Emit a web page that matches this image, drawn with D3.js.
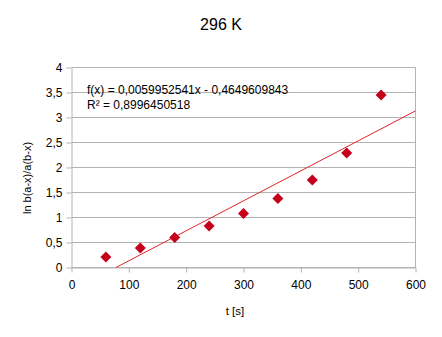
<!DOCTYPE html>
<html>
<head>
<meta charset="utf-8">
<script src="https://cdn.jsdelivr.net/npm/d3@7"></script>
<style>
  html, body { margin: 0; padding: 0; background: #fff; }
  svg { display: block; font-family: "Liberation Sans", Arial, sans-serif; }
</style>
</head>
<body>
<svg id="chart" width="442" height="337"></svg>
<script>
// Measurements: reaction time (s) and ln b(a-x)/a(b-x)
const times = [60, 120, 180, 240, 300, 360, 420, 480, 540];
const lnValues = [0.21, 0.39, 0.60, 0.83, 1.08, 1.38, 1.75, 2.29, 3.45];

// Linear trendline coefficients
const slope = 0.0059952541;
const intercept = -0.4649609843;
const rSquared = "0,8996450518";
const equationText = "f(x) = 0,0059952541x - 0,4649609843";

const xTicks = [0, 100, 200, 300, 400, 500, 600];
const yTicks = [0, 0.5, 1, 1.5, 2, 2.5, 3, 3.5, 4];

const svg = d3.select("#chart");
const plotLeft = 71.5, plotRight = 415.5, plotTop = 67.5, plotBottom = 267.5;

const x = d3.scaleLinear().domain([0, 600]).range([plotLeft, plotRight]);
const y = d3.scaleLinear().domain([0, 4]).range([plotBottom, plotTop]);
const fmt = v => String(v).replace(".", ",");
const grid = "#b3b3b3";

// Horizontal grid lines
svg.append("g").selectAll("line").data(yTicks).join("line")
  .attr("x1", plotLeft).attr("x2", plotRight)
  .attr("y1", d => y(d)).attr("y2", d => y(d))
  .attr("stroke", grid).attr("stroke-width", 1);

// Right frame edge
svg.append("line").attr("x1", plotRight).attr("x2", plotRight)
  .attr("y1", plotTop).attr("y2", plotBottom).attr("stroke", grid);

// Axes
const xAxis = svg.append("g").attr("transform", `translate(0,${plotBottom})`)
  .call(d3.axisBottom(x).tickValues(xTicks).tickSize(5).tickSizeOuter(0).tickFormat(fmt));
const yAxis = svg.append("g").attr("transform", `translate(${plotLeft},0)`)
  .call(d3.axisLeft(y).tickValues(yTicks).tickSize(5).tickSizeOuter(0).tickFormat(fmt));

[xAxis, yAxis].forEach(a => {
  a.select(".domain").attr("stroke", grid);
  a.selectAll(".tick line").attr("stroke", grid);
  a.selectAll(".tick text").attr("fill", "#000")
    .style("font-size", "12px").style("font-family", "'Liberation Sans', Arial, sans-serif");
});
xAxis.selectAll(".tick text").attr("dy", null).attr("y", 21);
yAxis.selectAll(".tick text").attr("x", -9).attr("dy", "0.36em");

// Trendline, starting where it crosses zero
const xStart = -intercept / slope;
svg.append("line")
  .attr("x1", x(xStart)).attr("y1", y(slope * xStart + intercept))
  .attr("x2", x(600)).attr("y2", y(slope * 600 + intercept))
  .attr("stroke", "#e2252b").attr("stroke-width", 1);

// Data markers (diamonds)
svg.append("g").selectAll("path").data(times).join("path")
  .attr("d", "M0,-5.5L5.5,0L0,5.5L-5.5,0Z")
  .attr("transform", (d, i) => `translate(${x(d)},${y(lnValues[i])})`)
  .attr("fill", "#c4001b");

// Regression equation
const eq = svg.append("text").attr("x", 87).attr("y", 94).style("font-size", "12px").attr("fill", "#000");
eq.append("tspan").attr("x", 87).text(equationText);
eq.append("tspan").attr("x", 87).attr("y", 108.5).text("R² = " + rSquared);

// Title and axis labels
svg.append("text").attr("x", 221).attr("y", 30).attr("text-anchor", "middle")
  .style("font-size", "16px").text("296 K");
svg.append("text").attr("x", 235).attr("y", 315).attr("text-anchor", "middle")
  .style("font-size", "11.5px").text("t [s]");
svg.append("text").attr("transform", "translate(31,178) rotate(-90)").attr("text-anchor", "middle")
  .style("font-size", "11px").text("ln b(a-x)/a(b-x)");
</script>
</body>
</html>
